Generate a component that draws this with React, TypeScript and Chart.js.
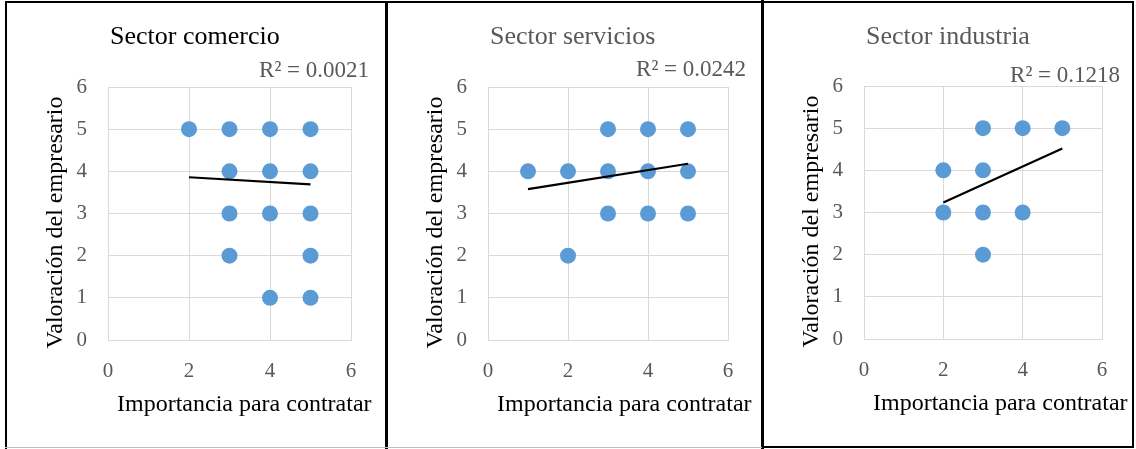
import React, { useEffect, useRef } from "react";
import { Chart, registerables } from "chart.js";

Chart.register(...registerables);

// ---- Data ----
const comercioX = [2, 3, 4, 5, 3, 4, 5, 3, 4, 5, 3, 5, 4, 5];
const comercioY = [5, 5, 5, 5, 4, 4, 4, 3, 3, 3, 2, 2, 1, 1];
const comercioTrendX = [2, 5];
const comercioTrendY = [3.86, 3.69];
const comercioR2 = "R\u00B2 = 0.0021";

const serviciosX = [1, 2, 2, 3, 3, 3, 4, 4, 4, 5, 5, 5];
const serviciosY = [4, 4, 2, 5, 4, 3, 5, 4, 3, 5, 4, 3];
const serviciosTrendX = [1, 5];
const serviciosTrendY = [3.58, 4.18];
const serviciosR2 = "R\u00B2 = 0.0242";

const industriaX = [2, 2, 3, 3, 3, 3, 4, 4, 5];
const industriaY = [4, 3, 5, 4, 3, 2, 5, 3, 5];
const industriaTrendX = [2, 5];
const industriaTrendY = [3.24, 4.52];
const industriaR2 = "R\u00B2 = 0.1218";

const titles = ["Sector comercio", "Sector servicios", "Sector industria"];
const xAxisTitle = "Importancia para contratar";
const yAxisTitle = "Valoración del empresario";
const axisMin = 0;
const axisMax = 6;
const xStep = 2;
const yStep = 1;

const FONT = '"Liberation Serif", "Times New Roman", serif';

type PanelDef = {
  xs: number[];
  ys: number[];
  tx: number[];
  ty: number[];
  r2: string;
  title: string;
  titleColor: string;
  left: number;
  width: number;
  padTop: number;
  padRight: number;
  yAxisW: number;
  xAxisH: number;
  r2Dy: number;
};

const CANVAS_TOP = 3;
const CANVAS_H = 443;

const panels: PanelDef[] = [
  { xs: comercioX, ys: comercioY, tx: comercioTrendX, ty: comercioTrendY, r2: comercioR2, title: titles[0], titleColor: "#000000", left: 7, width: 378, padTop: 84, padRight: 34, yAxisW: 101, xAxisH: 106, r2Dy: -16 },
  { xs: serviciosX, ys: serviciosY, tx: serviciosTrendX, ty: serviciosTrendY, r2: serviciosR2, title: titles[1], titleColor: "#595959", left: 388, width: 373, padTop: 84, padRight: 33, yAxisW: 100, xAxisH: 106, r2Dy: -17 },
  { xs: industriaX, ys: industriaY, tx: industriaTrendX, ty: industriaTrendY, r2: industriaR2, title: titles[2], titleColor: "#595959", left: 764, width: 368, padTop: 83, padRight: 30, yAxisW: 100, xAxisH: 107, r2Dy: -10 },
];

const textPlugin = {
  id: "panelText",
  afterDraw(chart: any, _args: any, opts: any) {
    const { ctx, chartArea: a } = chart;
    ctx.save();
    // Title
    ctx.font = `26px ${FONT}`;
    ctx.fillStyle = opts.titleColor;
    ctx.textAlign = "left";
    ctx.textBaseline = "middle";
    ctx.fillText(opts.title, a.left + 2, 34);
    // R2
    ctx.font = `23px ${FONT}`;
    ctx.fillStyle = "#595959";
    ctx.textAlign = "right";
    ctx.fillText(opts.r2, a.right + 18, a.top + opts.r2Dy);
    // X axis title
    ctx.font = `24px ${FONT}`;
    ctx.fillStyle = "#000000";
    ctx.textAlign = "left";
    ctx.fillText(opts.xTitle, a.left + 9, a.bottom + 65);
    // Y axis title
    ctx.translate(a.left - 52, (a.top + a.bottom) / 2 + 9);
    ctx.rotate(-Math.PI / 2);
    ctx.textAlign = "center";
    ctx.fillText(opts.yTitle, 0, 0);
    ctx.restore();
  },
};

function Panel({ p }: { p: PanelDef }) {
  const ref = useRef<HTMLCanvasElement | null>(null);
  useEffect(() => {
    if (!ref.current) return;
    const points = p.xs.map((x, i) => ({ x, y: p.ys[i] }));
    const trend = p.tx.map((x, i) => ({ x, y: p.ty[i] }));
    const chart = new Chart(ref.current, {
      type: "scatter",
      data: {
        datasets: [
          {
            type: "line",
            data: trend,
            borderColor: "#000000",
            borderWidth: 2.2,
            pointRadius: 0,
            fill: false,
          } as any,
          {
            data: points,
            backgroundColor: "#5B9BD5",
            borderColor: "#5B9BD5",
            borderWidth: 0,
            pointRadius: 8,
            pointHoverRadius: 8,
          },
        ],
      },
      options: {
        animation: false,
        responsive: false,
        events: [],
        layout: { padding: { top: p.padTop, right: p.padRight, left: 0, bottom: 0 } },
        plugins: {
          legend: { display: false },
          tooltip: { enabled: false },
          title: { display: false },
          panelText: {
            title: p.title,
            titleColor: p.titleColor,
            r2: p.r2,
            r2Dy: p.r2Dy,
            xTitle: xAxisTitle,
            yTitle: yAxisTitle,
          },
        } as any,
        scales: {
          x: {
            type: "linear",
            min: axisMin,
            max: axisMax,
            ticks: { stepSize: xStep, color: "#595959", font: { family: FONT, size: 21 }, padding: 19 },
            grid: { color: "#D9D9D9", lineWidth: 1, drawTicks: false },
            border: { color: "#D9D9D9" },
            afterFit: (s: any) => { s.height = p.xAxisH; },
          },
          y: {
            type: "linear",
            min: axisMin,
            max: axisMax,
            ticks: { stepSize: yStep, color: "#595959", font: { family: FONT, size: 21 }, padding: 21 },
            grid: { color: "#D9D9D9", lineWidth: 1, drawTicks: false },
            border: { color: "#D9D9D9" },
            afterFit: (s: any) => { s.width = p.yAxisW; },
          },
        },
      },
      plugins: [textPlugin],
    });
    return () => chart.destroy();
  }, [p]);
  return (
    <canvas
      ref={ref}
      width={p.width}
      height={CANVAS_H}
      style={{ position: "absolute", left: p.left, top: CANVAS_TOP, width: p.width, height: CANVAS_H }}
    />
  );
}

export default function App() {
  const line = (style: React.CSSProperties) => (
    <div style={{ position: "absolute", background: "#000", ...style }} />
  );
  return (
    <div style={{ position: "absolute", left: 0, top: 0, width: 1136, height: 449, background: "#fff", overflow: "hidden" }}>
      {panels.map((p, i) => (
        <Panel key={i} p={p} />
      ))}
      {line({ left: 5, top: 1, width: 1129, height: 2 })}
      {line({ left: 5, top: 1, width: 2, height: 448 })}
      {line({ left: 385, top: 1, width: 3, height: 448 })}
      {line({ left: 761, top: 0, width: 3, height: 449 })}
      {line({ left: 1132, top: 1, width: 2, height: 447 })}
      {line({ left: 762, top: 446, width: 372, height: 2 })}
      <div style={{ position: "absolute", left: 5, top: 447, width: 757, height: 1, background: "#BFBFBF" }} />
    </div>
  );
}
